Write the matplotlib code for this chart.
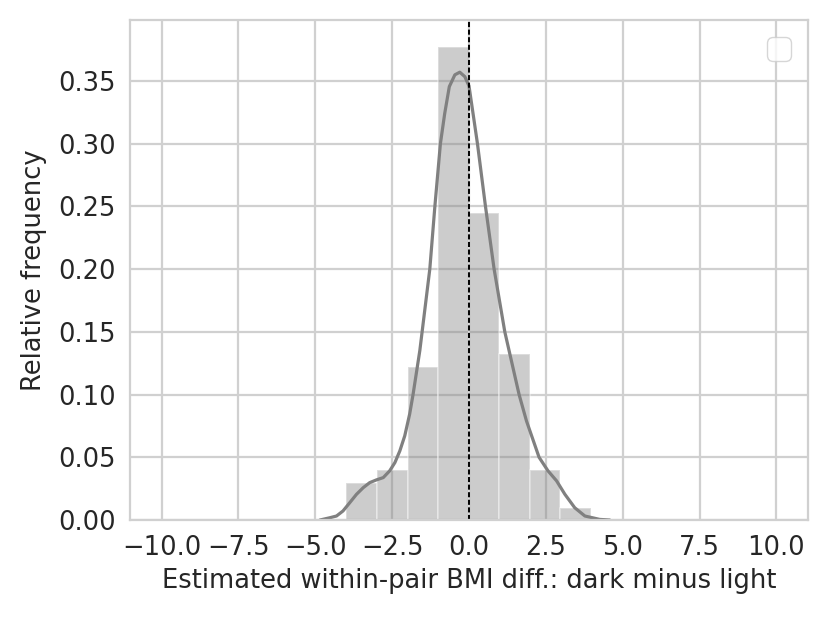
import numpy as np
import matplotlib
matplotlib.use("Agg")
import matplotlib.pyplot as plt
import seaborn as sns

# histogram (density)
bin_edges = [-3.99, -2.995, -2.0, -1.005, -0.01, 0.985, 1.98, 2.975, 3.97]
bin_heights = [0.0298, 0.0400, 0.1217, 0.3770, 0.2443, 0.1324, 0.0402, 0.0093]

# kde curve
kde_x = [-4.85, -4.53, -4.31, -4.10, -3.88, -3.66, -3.44, -3.23, -3.01, -2.79,
         -2.58, -2.41, -2.25, -2.09, -1.93, -1.82, -1.60, -1.525, -1.275,
         -1.11, -0.93, -0.79, -0.64, -0.46, -0.30, -0.137, 0.0, 0.275, 0.536,
         0.817, 1.165, 1.63, 1.87, 2.28, 2.57, 2.85, 3.12, 3.44, 3.77, 4.25,
         4.58]
kde_y = [0.0, 0.0018, 0.0032, 0.0072, 0.0138, 0.0205, 0.0258, 0.0298, 0.032,
         0.0338, 0.0392, 0.0458, 0.0551, 0.0671, 0.0845, 0.100, 0.135, 0.15,
         0.20, 0.25, 0.30, 0.324, 0.3454, 0.3548, 0.3569, 0.3534, 0.346, 0.30,
         0.25, 0.20, 0.15, 0.10, 0.079, 0.05, 0.0392, 0.0312, 0.0205, 0.0098,
         0.0032, 0.0005, 0.0]

sns.set_style("whitegrid")
plt.rcParams['font.family'] = ['DejaVu Sans']

fig = plt.figure(figsize=(8.3, 6.23), dpi=100)
ax = fig.add_axes([0.1566, 0.1653, 0.8169, 0.8026])

edges = np.array(bin_edges)
ax.bar(edges[:-1], bin_heights, width=np.diff(edges), align='edge',
       color='gray', alpha=0.4, edgecolor='white', linewidth=1.2)
ax.plot(kde_x, kde_y, color='gray', lw=2.3, solid_joinstyle='round')
ax.axvline(0, color='black', ls=(0, (2.6, 1.3)), lw=1.4)

ax.set_xlim(-11.03, 11.03)
ax.set_ylim(0, 0.3985)
ax.set_xticks(np.arange(-10, 10.1, 2.5))
ax.set_yticks(np.arange(0, 0.351, 0.05))
ax.tick_params(labelsize=18.5, colors='#262626', pad=7)
ax.grid(color='#d0d0d0', lw=1.6)
for s in ax.spines.values():
    s.set_color('#d0d0d0')
    s.set_linewidth(1.6)

ax.set_xlabel("Estimated within-pair BMI diff.: dark minus light", fontsize=18.5,
              color='#262626', labelpad=5)
ax.set_ylabel("Relative frequency", fontsize=18.5, color='#262626', labelpad=8)
ax.legend(handles=[], loc='upper right', fontsize=22, borderaxespad=0.55)

fig.savefig("out.png", dpi=100)
